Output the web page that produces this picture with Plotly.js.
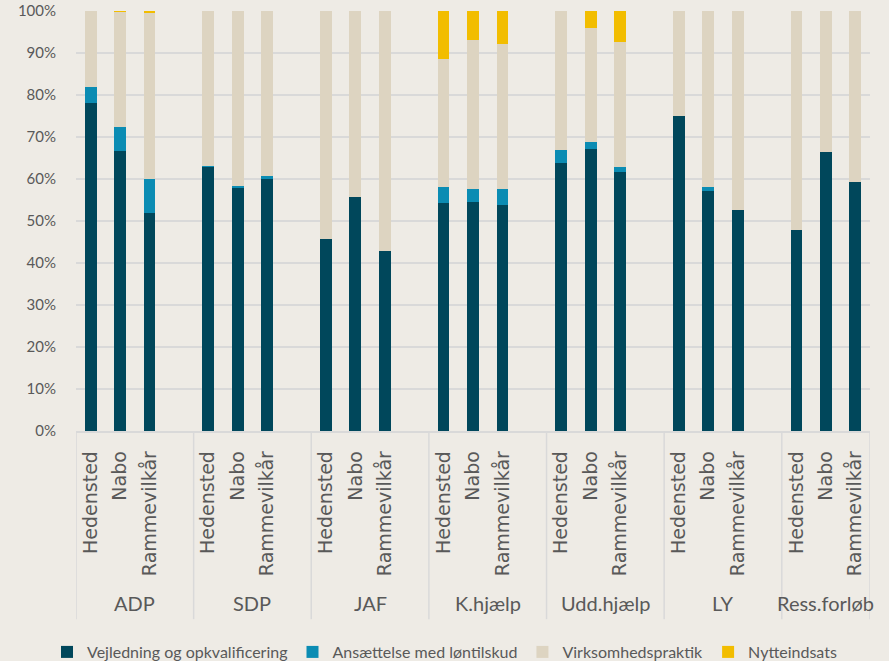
<!DOCTYPE html>
<html>
<head>
<meta charset="utf-8">
<script src="https://cdn.plot.ly/plotly-3.0.1.min.js"></script>
<style>html,body{margin:0;padding:0;background:#EEEBE5;}</style>
</head>
<body>
<div id="chart" style="width:889px;height:661px;"></div>
<script>
const groups = ['ADP','SDP','JAF','K.hjælp','Udd.hjælp','LY','Ress.forløb'];
const subs = ['Hedensted','Nabo','Rammevilkår'];
const seriesNames = ['Vejledning og opkvalificering','Ansættelse med løntilskud','Virksomhedspraktik','Nytteindsats'];
const seriesColors = ['#00475B','#0B8CB3','#DDD4C1','#F2BD00'];
// values in %, order: group by group, Hedensted / Nabo / Rammevilkår
const vejledning   = [78.0,66.7,52.0, 62.8,57.8,60.0, 45.8,55.8,42.8, 54.4,54.6,53.7, 63.9,67.1,61.7, 74.9,57.1,52.7, 47.8,66.5,59.3];
const ansaettelse  = [4.0,5.8,8.1,    0.2,0.6,0.7,    0,0,0,          3.7,3.0,3.9,    2.9,1.6,1.1,    0,1.1,0,        0,0,0];
const virksomhed   = [18.0,27.3,39.4, 37.0,41.5,39.3, 54.2,44.2,57.2, 30.4,35.5,34.6, 33.2,27.3,29.9, 25.1,41.8,47.3, 52.2,33.5,40.7];
const nytte        = [0,0.2,0.5,      0,0.1,0,        0,0,0,          11.5,6.9,7.8,   0,4.0,7.3,      0,0,0,          0,0,0];
const yTicks = [0,10,20,30,40,50,60,70,80,90,100];
const yTickText = yTicks.map(v => v + '%');

// build category slots (3 bars + one empty slot per group, except the last)
const cats = [], tickText = [], barX = [], groupStart = [], groupEnd = [];
groups.forEach((g, gi) => {
  groupStart.push(cats.length - 0.5);
  subs.forEach(s => { const id = g + '|' + s; cats.push(id); tickText.push(s); barX.push(id); });
  if (gi < groups.length - 1) { cats.push(g + '|gap'); tickText.push(''); }
  groupEnd.push(cats.length - 0.5);
});

const allSeries = [vejledning, ansaettelse, virksomhed, nytte];
const traces = allSeries.map((vals, i) => ({
  type: 'bar',
  name: seriesNames[i],
  x: barX,
  y: vals,
  marker: {color: seriesColors[i]},
  hoverinfo: 'skip'
}));

const shapes = [];
const annotations = [];
groups.forEach((g, gi) => {
  shapes.push({type:'line', xref:'x', yref:'paper', x0:groupStart[gi], x1:groupStart[gi], y0:0, y1:-0.448,
               line:{color:'#D9D9D9', width:1.5}});
  annotations.push({xref:'x', yref:'paper', x:(groupStart[gi] + groupEnd[gi]) / 2, y:-0.41, yanchor:'middle',
                    text:g, showarrow:false, font:{family:'Lato, sans-serif', size:20, color:'#595959'}});
});
shapes.push({type:'line', xref:'x', yref:'paper', x0:groupEnd[groups.length-1], x1:groupEnd[groups.length-1], y0:0, y1:-0.448,
             line:{color:'#D9D9D9', width:1.5}});

const layout = {
  width: 889, height: 661,
  paper_bgcolor: '#EEEBE5', plot_bgcolor: '#EEEBE5',
  margin: {l:76, r:19, t:11, b:230},
  barmode: 'stack',
  bargap: 0.6,
  showlegend: true,
  legend: {orientation:'h', x:0.5, xanchor:'center', xref:'container', y:0.0136, yanchor:'middle', yref:'container',
           traceorder:'normal', itemwidth:30, tracegroupgap:0,
           font:{family:'Lato, sans-serif', size:16, color:'#595959'}, bgcolor:'rgba(0,0,0,0)'},
  xaxis: {type:'category', categoryorder:'array', categoryarray:cats,
          tickmode:'array', tickvals:cats, ticktext:tickText,
          range:[-0.5, cats.length - 0.5], tickangle:-90,
          ticks:'outside', ticklen:11, tickcolor:'rgba(0,0,0,0)',
          tickfont:{family:'DejaVu Sans, sans-serif', size:19, color:'#595959'},
          showline:true, linecolor:'#D9D9D9', linewidth:1.5, showgrid:false, automargin:false, fixedrange:true},
  yaxis: {range:[0,100], tickmode:'array', tickvals:yTicks, ticktext:yTickText, showgrid:true, gridcolor:'#D9D9D9', gridwidth:1.5,
          zeroline:false, showline:false, ticks:'outside', ticklen:16, tickcolor:'rgba(0,0,0,0)',
          tickfont:{family:'Lato, sans-serif', size:15, color:'#595959'}, automargin:false, fixedrange:true},
  shapes: shapes,
  annotations: annotations
};

Plotly.newPlot('chart', traces, layout, {displayModeBar:false, staticPlot:true});
</script>
</body>
</html>
